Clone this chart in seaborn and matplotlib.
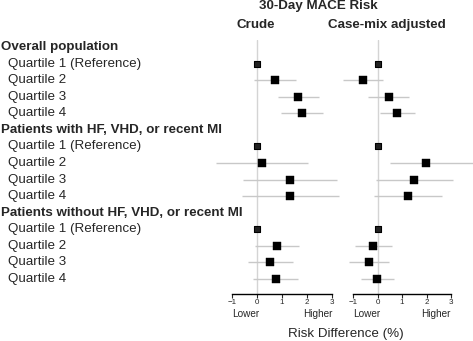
import numpy as np
import pandas as pd
import matplotlib
matplotlib.use("Agg")
import matplotlib.pyplot as plt
import seaborn as sns

# Row labels (top to bottom)
groups = ["Overall population",
          "Patients with HF, VHD, or recent MI",
          "Patients without HF, VHD, or recent MI"]
quartiles = ["Quartile 1 (Reference)", "Quartile 2", "Quartile 3", "Quartile 4"]

# Risk differences (%) and 95% CI
crude_est = [0.0, 0.73, 1.63, 1.79, 0.0, 0.21, 1.32, 1.33, 0.0, 0.80, 0.53, 0.77]
crude_lo = [np.nan, -0.13, 0.83, 0.96, np.nan, -1.63, -0.55, -0.58, np.nan, -0.09, -0.36, -0.16]
crude_hi = [np.nan, 1.56, 2.48, 2.64, np.nan, 2.04, 3.18, 3.26, np.nan, 1.69, 1.42, 1.65]

adj_est = [0.0, -0.62, 0.45, 0.80, 0.0, 1.96, 1.48, 1.23, 0.0, -0.20, -0.35, -0.02]
adj_lo = [np.nan, -1.43, -0.39, 0.10, np.nan, 0.52, -0.09, -0.17, np.nan, -0.95, -1.16, -0.68]
adj_hi = [np.nan, 0.23, 1.30, 1.53, np.nan, 3.9, 3.08, 2.63, np.nan, 0.59, 0.45, 0.66]

xticks = [-1, 0, 1, 2, 3]

sns.set_style("white")
plt.rcParams['font.family'] = ['Liberation Sans', 'DejaVu Sans']

# build row positions: header row then 4 quartile rows per group
rows = []
pos = 0
for g in groups:
    rows.append((pos, g, True))
    pos += 1
    for q in quartiles:
        rows.append((pos, q, False))
        pos += 1
ypos = [r[0] for r in rows if not r[2]]

def make_df(est, lo, hi):
    df = pd.DataFrame({"y": ypos, "est": est, "lo": lo, "hi": hi})
    df["ref"] = df["lo"].isna()
    return df

crude = make_df(crude_est, crude_lo, crude_hi)
adj = make_df(adj_est, adj_lo, adj_hi)

W, H = 473, 341
fig = plt.figure(figsize=(W / 100, H / 100), dpi=100)

top_px, bot_px = 40.4, 294
ax_b = 1 - bot_px / H
ax_h = (bot_px - top_px) / H
ax1 = fig.add_axes([231.7 / W, ax_b, 100.6 / W, ax_h])
ax2 = fig.add_axes([353.3 / W, ax_b, 97.7 / W, ax_h])

for ax, df in [(ax1, crude), (ax2, adj)]:
    ax.set_facecolor("none")
    ax.set_xlim(-1, 3)
    ax.set_ylim(14 + 15 / 16.57, -0.4)
    ax.axvline(0, color="#d4d4d4", lw=1.0, zorder=0)
    d = df.dropna()
    ax.hlines(d["y"], d["lo"], d["hi"], color="#c8c8c8", lw=1.0, clip_on=False, zorder=1)
    sns.scatterplot(data=df[~df["ref"]], x="est", y="y", marker="s", s=34, color="black",
                    edgecolor="black", linewidth=0.3, ax=ax, zorder=3, clip_on=False, legend=False)
    sns.scatterplot(data=df[df["ref"]], x="est", y="y", marker="s", s=20, color="#222222",
                    edgecolor="black", linewidth=0.8, ax=ax, zorder=3, clip_on=False, legend=False)
    for s in ["top", "right", "left"]:
        ax.spines[s].set_visible(False)
    ax.spines["bottom"].set_color("black")
    ax.spines["bottom"].set_linewidth(1.0)
    ax.set_xticks(xticks)
    ax.set_xticklabels(["\u22121", "0", "1", "2", "3"], fontsize=5.8)
    ax.tick_params(axis="x", direction="out", length=3, width=0.8, pad=0.5, bottom=True)
    ax.set_yticks([])
    ax.set_xlabel("")
    ax.set_ylabel("")
    ax.text(-1, -0.078, "Lower", transform=ax.get_xaxis_transform(), ha="left", va="center", fontsize=7.2)
    ax.text(3, -0.078, "Higher", transform=ax.get_xaxis_transform(), ha="right", va="center", fontsize=7.2)

# row labels
for p, lab, is_head in rows:
    ypx = 47 + p * 16.57
    fig.text((1 if is_head else 8) / W, 1 - ypx / H, lab, ha="left", va="center",
             fontsize=9.6, fontweight="bold" if is_head else "normal")

fig.text(318 / W, 1 - 6 / H, "30-Day MACE Risk", ha="center", va="center", fontsize=9.6, fontweight="bold")
fig.text(256 / W, 1 - 25 / H, "Crude", ha="center", va="center", fontsize=9.6, fontweight="bold")
fig.text(387 / W, 1 - 25 / H, "Case-mix adjusted", ha="center", va="center", fontsize=9.6, fontweight="bold")
fig.text(346 / W, 1 - 334 / H, "Risk Difference (%)", ha="center", va="center", fontsize=9.6)

fig.savefig("out.png", dpi=100)
